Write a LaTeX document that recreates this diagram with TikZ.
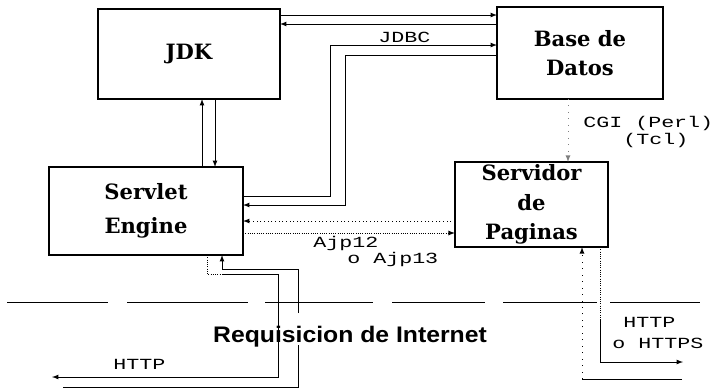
\documentclass[tikz,border=0pt]{standalone}
\usepackage{fontspec}
\newfontfamily\boxfont{DejaVu Serif}
\newfontfamily\codefont[FakeStretch=1.4]{Liberation Mono}
\newfontfamily\netfont[FakeStretch=1.1]{Liberation Sans}

\tikzset{
  modulo/.style={draw, line width=1.4pt, inner sep=0pt, outer sep=0pt,
    align=center, font=\boxfont\bfseries\fontsize{15}{21}\selectfont},
  etiq/.style={inner sep=0pt, anchor=west, font=\codefont\fontsize{11}{13}\selectfont},
  flujo/.style={semithick, ->},
}

\begin{document}
\begin{tikzpicture}[x=0.025cm, y=-0.025cm, >=latex]
    \useasboundingbox (0,0) rectangle (714,389);

    % Modules of the system
    \node[modulo, minimum width=4.55cm, minimum height=2.25cm] (jdk) at (189,54) {JDK};
    \node[modulo, minimum width=4.15cm, minimum height=2.3cm] (bd) at (580,53) {Base de\\Datos};
    \node[modulo, minimum width=4.85cm, minimum height=2.2cm] (se) at (146,211) {Servlet\\[3pt]Engine};
    \node[modulo, minimum width=3.83cm, minimum height=2.13cm] (sp) at (531.5,204.5) {Servidor\\de\\Paginas};

    % JDK <-> Base de Datos (JDBC)
    \draw[flujo] (jdk.east |- 0,15) -- (bd.west |- 0,15);
    \draw[flujo] (bd.west |- 0,24) -- (jdk.east |- 0,24);
    \node[etiq] (jdbc) at (378,37) {JDBC};

    % Servlet Engine <-> Base de Datos
    \draw[flujo] (se.east |- 0,196) -- (330,196) -- (330,45) -- (bd.west |- 0,45);
    \draw[flujo] (bd.west |- 0,55) -- (345,55) -- (345,205) -- (se.east |- 0,205);

    % JDK <-> Servlet Engine
    \draw[flujo] (se.north -| 202,0) -- (jdk.south -| 202,0);
    \draw[flujo] (jdk.south -| 215,0) -- (se.north -| 215,0);

    % Servidor de Paginas <-> Servlet Engine
    \draw[flujo, dotted] (sp.west |- 0,221) -- (se.east |- 0,221);
    \draw[flujo, densely dotted] (se.east |- 0,233) -- (sp.west |- 0,233);
    \node[etiq] (ajp12) at (313,243) {Ajp12};
    \node[etiq] (ajp13) at (347,259) {o Ajp13};

    % Base de Datos -> Servidor de Paginas (CGI)
    \draw[flujo, loosely dotted, gray] (bd.south -| 568,0) -- (sp.north -| 568,0);
    \node[etiq] (cgi) at (583,123) {CGI (Perl)};
    \node[etiq] (tcl) at (623,140) {(Tcl)};

    % Internet boundary
    \coordinate (netL) at (7,302);
    \coordinate (netR) at (700,302);
    \draw[semithick, dash pattern=on 2.525cm off 0.475cm on 3.025cm off 0.425cm
      on 2.7cm off 0.475cm on 2.325cm off 0.45cm on 2.35cm off 0.325cm on 2.25cm off 1cm]
      (netL) -- (netR);
    \node[font=\netfont\bfseries\fontsize{16}{18}\selectfont] (req) at (350,337) {Requisicion de Internet};

    % HTTP from/to the Servlet Engine
    \coordinate (httpout) at (52,377);
    \coordinate (httpin) at (63,387);
    \draw[semithick, densely dotted] (se.south -| 207,0) -- (207,274) -- (222,274);
    \draw[flujo] (222,274) -- (278,274) -- (278,377) -- (httpout);
    \draw[semithick] (httpin) -- (298,387) -- (298,345);
    \draw[flujo] (298,313) -- (298,269) -- (222,269) -- (se.south -| 222,0);
    \node[etiq] (http1) at (113,364) {HTTP};

    % HTTP / HTTPS from/to the Servidor de Paginas
    \coordinate (httpsout) at (683,362);
    \coordinate (httpsin) at (682,379);
    \draw[semithick, densely dotted] (sp.south -| 600,0) -- (600,320);
    \draw[flujo] (600,320) -- (600,362) -- (httpsout);
    \draw[semithick] (httpsin) -- (582,379);
    \draw[flujo, loosely dotted] (582,379) -- (sp.south -| 582,0);
    \node[etiq] (http2) at (623,322) {HTTP};
    \node[etiq] (https) at (612,343) {o HTTPS};

\end{tikzpicture}
\end{document}
